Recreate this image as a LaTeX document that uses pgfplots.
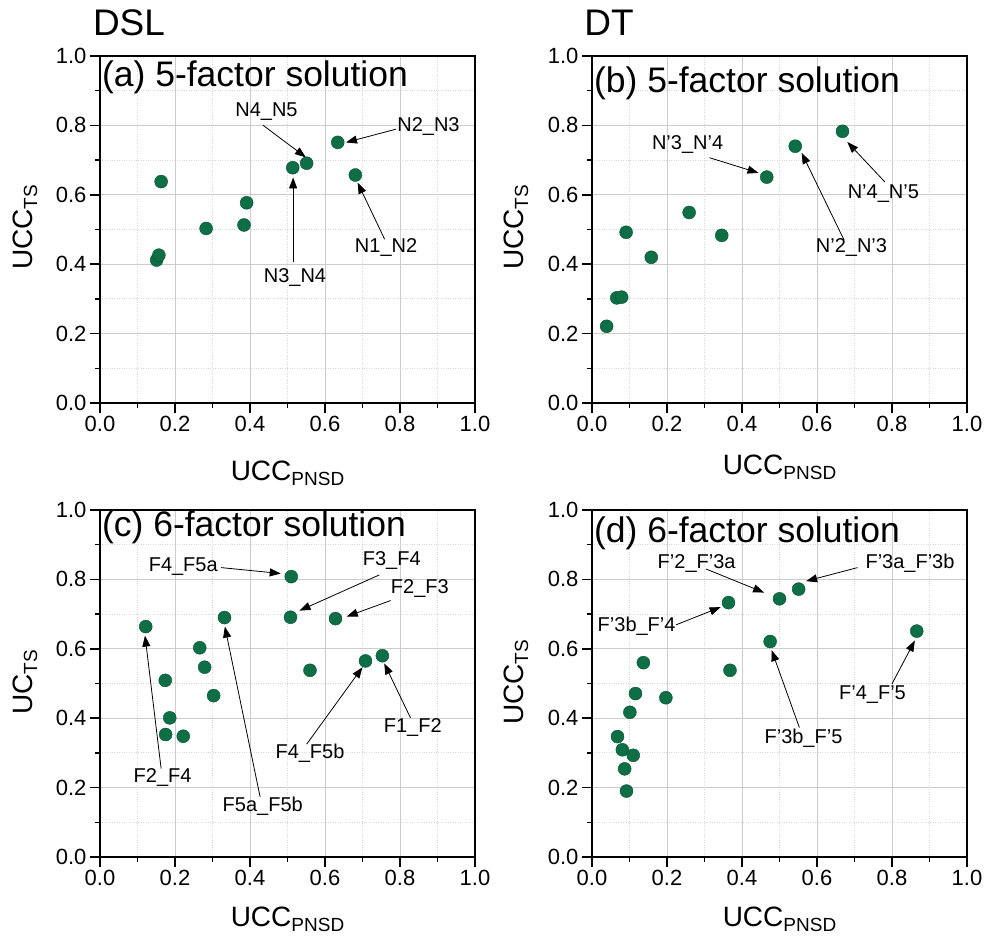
\documentclass[border=0pt]{standalone}
\usepackage{fontspec}
\setmainfont{Liberation Sans}
\usepackage{pgfplots}
\pgfplotsset{compat=1.18}
\usetikzlibrary{arrows.meta}
\definecolor{dotgreen}{HTML}{0E6E46}
\definecolor{gridmaj}{HTML}{CCCCCC}
\definecolor{gridmin}{HTML}{D8D8D8}

\newcommand{\lbl}[2]{{\fontsize{28}{30}\selectfont #1\raisebox{-5pt}{\fontsize{19}{20}\selectfont #2}}}

\pgfplotsset{
  panel/.style={
    scale only axis, width=375pt, height=347pt, anchor=south west,
    xmin=0, xmax=1, ymin=0, ymax=1, clip=false,
    xtick={0,0.2,0.4,0.6,0.8,1}, ytick={0,0.2,0.4,0.6,0.8,1},
    minor x tick num=1, minor y tick num=1,
    grid=both,
    major grid style={gridmaj, line width=0.8pt},
    minor grid style={gridmin, dotted, line width=0.8pt},
    axis line style={line width=1.6pt},
    major tick style={black, line width=1.5pt},
    minor tick style={black, line width=1.3pt},
    tick align=outside, tick pos=left,
    major tick length=10pt, minor tick length=5pt,
    ticklabel style={font=\fontsize{22}{24}\selectfont},
    /pgf/number format/.cd, fixed, fixed zerofill, precision=1, assume math mode=true,
    /pgfplots/.cd,
  },
  dots/.style={only marks, mark=*, mark size=6.5pt,
    mark options={fill=dotgreen, draw=dotgreen!75!black, line width=0.4pt}},
}
\tikzset{
  ann/.style={font=\fontsize{20}{22}\selectfont, inner sep=0pt},
  arr/.style={-{Triangle[length=11pt,width=8pt]}, line width=0.8pt},
  ttl/.style={anchor=west, font=\fontsize{35.5}{38}\selectfont, inner sep=0pt},
}

\begin{document}
\begin{tikzpicture}
\useasboundingbox (0,0) rectangle (989pt,938pt);
\node[font=\fontsize{37}{40}\selectfont, inner sep=0pt] at (129pt,915pt) {DSL};
\node[font=\fontsize{37}{40}\selectfont, inner sep=0pt] at (609pt,915pt) {DT};

% (a) DSL 5-factor
\begin{axis}[panel, at={(100pt,535pt)},
  xlabel={\lbl{UCC}{PNSD}}, ylabel={\lbl{UCC}{TS}},
  xlabel style={at={(axis description cs:0.5,-0.222)}, anchor=base},
  ylabel style={at={(axis description cs:-0.181,0.506)}, anchor=base}]
\addplot[dots] coordinates {(0.163,0.638)(0.151,0.412)(0.157,0.426)(0.283,0.503)(0.384,0.513)(0.391,0.577)(0.514,0.678)(0.551,0.691)(0.634,0.751)(0.681,0.657)};
\node[ttl] at (axis description cs:0.005,0.940) {(a) 5-factor solution};
\node[ann] at (axis cs:0.444,0.839) {N4\_N5};
\draw[arr] (axis cs:0.434,0.801) -- (axis cs:0.549,0.708);
\node[ann] at (axis cs:0.876,0.798) {N2\_N3};
\draw[arr] (axis cs:0.789,0.789) -- (axis cs:0.656,0.751);
\node[ann] at (axis cs:0.520,0.362) {N3\_N4};
\draw[arr] (axis cs:0.515,0.407) -- (axis cs:0.515,0.650);
\node[ann] at (axis cs:0.763,0.449) {N1\_N2};
\draw[arr] (axis cs:0.759,0.472) -- (axis cs:0.687,0.635);
\end{axis}

% (b) DT 5-factor
\begin{axis}[panel, at={(592pt,535pt)},
  xlabel={\lbl{UCC}{PNSD}}, ylabel={\lbl{UCC}{TS}},
  xlabel style={at={(axis description cs:0.5,-0.205)}, anchor=base},
  ylabel style={at={(axis description cs:-0.184,0.506)}, anchor=base}]
\addplot[dots] coordinates {(0.039,0.221)(0.066,0.303)(0.079,0.305)(0.091,0.492)(0.158,0.420)(0.259,0.549)(0.346,0.483)(0.466,0.651)(0.542,0.740)(0.668,0.783)};
\node[ttl] at (axis description cs:0.005,0.922) {(b) 5-factor solution};
\node[ann] at (axis cs:0.255,0.746) {N'3\_N'4};
\draw[arr] (axis cs:0.313,0.707) -- (axis cs:0.444,0.663);
\node[ann] at (axis cs:0.692,0.447) {N'2\_N'3};
\draw[arr] (axis cs:0.672,0.470) -- (axis cs:0.559,0.721);
\node[ann] at (axis cs:0.777,0.603) {N'4\_N'5};
\draw[arr] (axis cs:0.781,0.637) -- (axis cs:0.681,0.752);
\end{axis}

% (c) DSL 6-factor
\begin{axis}[panel, at={(100pt,81pt)},
  xlabel={\lbl{UCC}{PNSD}}, ylabel={\lbl{UC}{TS}},
  xlabel style={at={(axis description cs:0.5,-0.201)}, anchor=base},
  ylabel style={at={(axis description cs:-0.181,0.504)}, anchor=base}]
\addplot[dots] coordinates {(0.122,0.664)(0.174,0.509)(0.186,0.401)(0.175,0.353)(0.222,0.348)(0.266,0.603)(0.279,0.547)(0.303,0.465)(0.332,0.690)(0.510,0.808)(0.508,0.691)(0.560,0.538)(0.628,0.687)(0.708,0.565)(0.753,0.580)};
\node[ttl] at (axis description cs:0.005,0.949) {(c) 6-factor solution};
\node[ann] at (axis cs:0.222,0.837) {F4\_F5a};
\draw[arr] (axis cs:0.323,0.834) -- (axis cs:0.482,0.817);
\node[ann] at (axis cs:0.778,0.855) {F3\_F4};
\draw[arr] (axis cs:0.745,0.813) -- (axis cs:0.532,0.710);
\node[ann] at (axis cs:0.853,0.775) {F2\_F3};
\draw[arr] (axis cs:0.775,0.739) -- (axis cs:0.658,0.693);
\node[ann] at (axis cs:0.167,0.229) {F2\_F4};
\draw[arr] (axis cs:0.163,0.255) -- (axis cs:0.120,0.638);
\node[ann] at (axis cs:0.434,0.147) {F5a\_F5b};
\draw[arr] (axis cs:0.427,0.173) -- (axis cs:0.333,0.664);
\node[ann] at (axis cs:0.560,0.300) {F4\_F5b};
\draw[arr] (axis cs:0.551,0.325) -- (axis cs:0.700,0.547);
\node[ann] at (axis cs:0.834,0.374) {F1\_F2};
\draw[arr] (axis cs:0.828,0.401) -- (axis cs:0.758,0.558);
\end{axis}

% (d) DT 6-factor
\begin{axis}[panel, at={(592pt,81pt)},
  xlabel={\lbl{UCC}{PNSD}}, ylabel={\lbl{UCC}{TS}},
  xlabel style={at={(axis description cs:0.5,-0.201)}, anchor=base},
  ylabel style={at={(axis description cs:-0.184,0.503)}, anchor=base}]
\addplot[dots] coordinates {(0.068,0.347)(0.081,0.309)(0.110,0.293)(0.087,0.254)(0.092,0.190)(0.101,0.417)(0.116,0.471)(0.137,0.560)(0.197,0.459)(0.364,0.733)(0.368,0.538)(0.475,0.621)(0.500,0.744)(0.551,0.772)(0.866,0.651)};
\node[ttl] at (axis description cs:0.005,0.932) {(d) 6-factor solution};
\node[ann] at (axis cs:0.279,0.846) {F'2\_F'3a};
\draw[arr] (axis cs:0.304,0.830) -- (axis cs:0.459,0.762);
\node[ann] at (axis cs:0.848,0.848) {F'3a\_F'3b};
\draw[arr] (axis cs:0.708,0.834) -- (axis cs:0.571,0.795);
\node[ann] at (axis cs:0.119,0.666) {F'3b\_F'4};
\draw[arr] (axis cs:0.224,0.669) -- (axis cs:0.343,0.720);
\node[ann] at (axis cs:0.748,0.469) {F'4\_F'5};
\draw[arr] (axis cs:0.800,0.499) -- (axis cs:0.861,0.624);
\node[ann] at (axis cs:0.564,0.341) {F'3b\_F'5};
\draw[arr] (axis cs:0.553,0.373) -- (axis cs:0.479,0.596);
\end{axis}
\end{tikzpicture}
\end{document}
